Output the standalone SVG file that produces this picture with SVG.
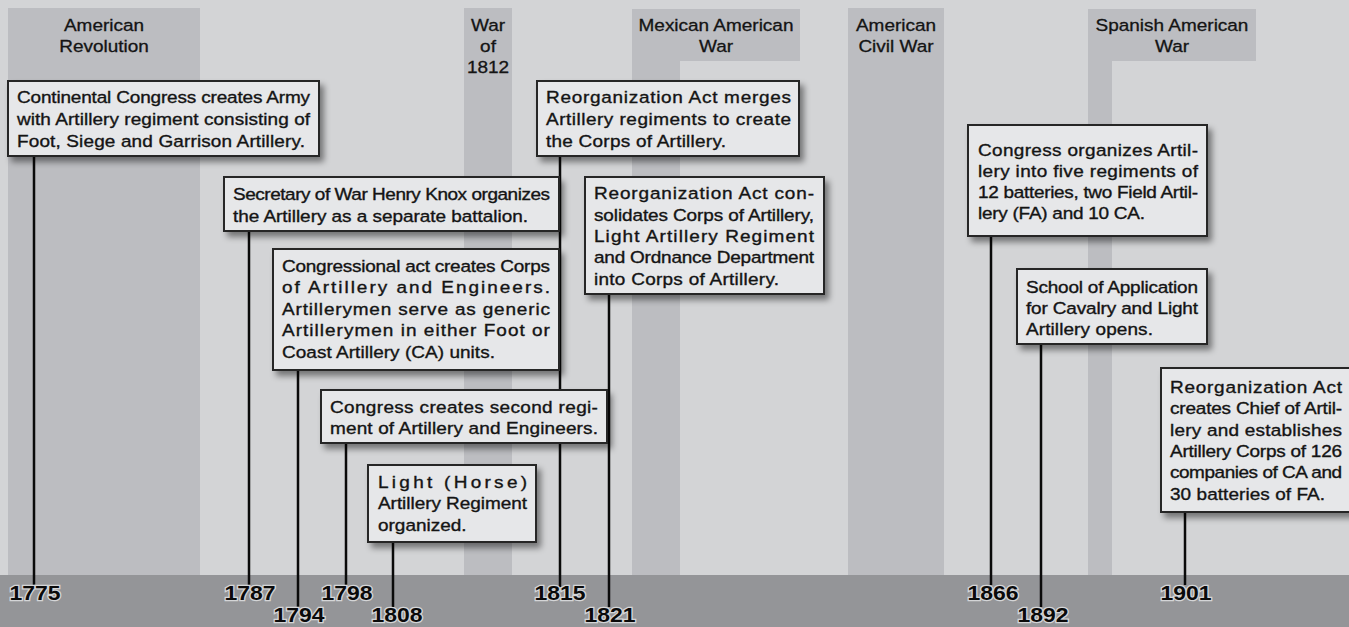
<svg xmlns="http://www.w3.org/2000/svg" width="1349" height="627" viewBox="0 0 1349 627">
<style>
.band{fill:#bcbdc1}
.hdr{font-family:"Liberation Sans",Arial,sans-serif;font-size:16.5px;fill:#141414;stroke:#141414;stroke-width:0.3;text-anchor:middle}
.box{fill:#e6e7e9;stroke:#262626;stroke-width:2;filter:url(#sh)}
.t text{font-family:"Liberation Sans",Arial,sans-serif;font-size:16.5px;fill:#141414;stroke:#141414;stroke-width:0.35}
.yr{font-family:"Liberation Sans",Arial,sans-serif;font-weight:bold;font-size:20.5px;fill:#0a0a0a;stroke:#d4d5d7;stroke-width:2.5;paint-order:stroke;text-anchor:middle}
.ln{stroke:#0a0a0a;stroke-width:2.5;fill:none}
</style>
<defs>
<filter id="sh" x="-10%" y="-20%" width="130%" height="150%">
<feDropShadow dx="4" dy="5" stdDeviation="3" flood-color="#000" flood-opacity="0.45"/>
</filter>
</defs>
<rect x="0" y="0" width="1349" height="627" fill="#d3d4d6"/>
<g id="wars">
<rect class="band" x="8" y="8" width="192" height="570"/>
<rect class="band" x="464" y="8" width="48" height="570"/>
<rect class="band" x="632" y="9" width="168" height="52"/>
<rect class="band" x="632" y="9" width="48" height="569"/>
<rect class="band" x="848" y="8" width="96" height="570"/>
<rect class="band" x="1088" y="9" width="168" height="52"/>
<rect class="band" x="1088" y="9" width="24" height="569"/>
<g transform="translate(104 0) scale(1.15 1)"><text class="hdr" x="0" y="31">American</text><text class="hdr" x="0" y="52">Revolution</text></g>
<g transform="translate(488 0) scale(1.15 1)"><text class="hdr" x="0" y="31">War</text><text class="hdr" x="0" y="52">of</text><text class="hdr" x="0" y="73">1812</text></g>
<g transform="translate(716 0) scale(1.15 1)"><text class="hdr" x="0" y="31">Mexican American</text><text class="hdr" x="0" y="52">War</text></g>
<g transform="translate(896 0) scale(1.15 1)"><text class="hdr" x="0" y="31">American</text><text class="hdr" x="0" y="52">Civil War</text></g>
<g transform="translate(1172 0) scale(1.15 1)"><text class="hdr" x="0" y="31">Spanish American</text><text class="hdr" x="0" y="52">War</text></g>
</g>
<rect id="timeline" x="0" y="575" width="1349" height="52" fill="#949598"/>
<g id="connectors">
<line class="ln" x1="34" y1="156" x2="34" y2="585"/>
<line class="ln" x1="249" y1="231" x2="249" y2="585"/>
<line class="ln" x1="298" y1="370" x2="298" y2="607"/>
<line class="ln" x1="346" y1="443" x2="346" y2="585"/>
<line class="ln" x1="393" y1="542" x2="393" y2="607"/>
<line class="ln" x1="560" y1="156" x2="560" y2="587"/>
<line class="ln" x1="609" y1="294" x2="609" y2="607"/>
<line class="ln" x1="991" y1="236" x2="991" y2="585"/>
<line class="ln" x1="1041" y1="344" x2="1041" y2="607"/>
<line class="ln" x1="1185" y1="512" x2="1185" y2="585"/>
</g>
<g id="n1775">
<rect class="box" x="8" y="81" width="311" height="75"/>
<g class="t" transform="translate(17 0) scale(1.15 1)">
<text x="0" y="103" textLength="254.8">Continental Congress creates Army</text>
<text x="0" y="125" textLength="254.8">with Artillery regiment consisting of</text>
<text x="0" y="147" textLength="250.4">Foot, Siege and Garrison Artillery.</text>
</g>
<text class="yr" transform="translate(35 600) scale(1.12 1)">1775</text>
</g>
<g id="n1787">
<rect class="box" x="224" y="177" width="335" height="54"/>
<g class="t" transform="translate(233 0) scale(1.15 1)">
<text x="0" y="200" textLength="275.7">Secretary of War Henry Knox organizes</text>
<text x="0" y="222" textLength="256.5">the Artillery as a separate battalion.</text>
</g>
<text class="yr" transform="translate(250 600) scale(1.12 1)">1787</text>
</g>
<g id="n1794">
<rect class="box" x="273" y="249" width="286" height="121"/>
<g class="t" transform="translate(282 0) scale(1.15 1)">
<text x="0" y="272" textLength="233">Congressional act creates Corps</text>
<text x="0" y="293.5" textLength="233">of Artillery and Engineers.</text>
<text x="0" y="315" textLength="233">Artillerymen serve as generic</text>
<text x="0" y="336.5" textLength="233">Artillerymen in either Foot or</text>
<text x="0" y="358" textLength="185.2">Coast Artillery (CA) units.</text>
</g>
<text class="yr" transform="translate(299 622) scale(1.12 1)">1794</text>
</g>
<g id="n1798">
<rect class="box" x="321" y="390" width="286" height="53"/>
<g class="t" transform="translate(330 0) scale(1.15 1)">
<text x="0" y="413" textLength="233">Congress creates second regi-</text>
<text x="0" y="434" textLength="233">ment of Artillery and Engineers.</text>
</g>
<text class="yr" transform="translate(347 600) scale(1.12 1)">1798</text>
</g>
<g id="n1808">
<rect class="box" x="368" y="465" width="168" height="77"/>
<g class="t" transform="translate(378 0) scale(1.15 1)">
<text x="0" y="488" textLength="129.6">Light (Horse)</text>
<text x="0" y="509" textLength="129.6">Artillery Regiment</text>
<text x="0" y="531">organized.</text>
</g>
<text class="yr" transform="translate(397 622) scale(1.12 1)">1808</text>
</g>
<g id="n1815">
<rect class="box" x="537" y="81" width="262" height="75"/>
<g class="t" transform="translate(546 0) scale(1.15 1)">
<text x="0" y="103" textLength="213">Reorganization Act merges</text>
<text x="0" y="125" textLength="213">Artillery regiments to create</text>
<text x="0" y="147" textLength="156.5">the Corps of Artillery.</text>
</g>
<text class="yr" transform="translate(560 600) scale(1.12 1)">1815</text>
</g>
<g id="n1821">
<rect class="box" x="585" y="177" width="239" height="117"/>
<g class="t" transform="translate(594 0) scale(1.15 1)">
<text x="0" y="199" textLength="191.3">Reorganization Act con-</text>
<text x="0" y="221" textLength="191.3">solidates Corps of Artillery,</text>
<text x="0" y="242" textLength="191.3">Light Artillery Regiment</text>
<text x="0" y="263" textLength="191.3">and Ordnance Department</text>
<text x="0" y="285" textLength="160.9">into Corps of Artillery.</text>
</g>
<text class="yr" transform="translate(610 622) scale(1.12 1)">1821</text>
</g>
<g id="n1866">
<rect class="box" x="968" y="125" width="239" height="111"/>
<g class="t" transform="translate(978 0) scale(1.15 1)">
<text x="0" y="156" textLength="191.3">Congress organizes Artil-</text>
<text x="0" y="177" textLength="191.3">lery into five regiments of</text>
<text x="0" y="198" textLength="191.3">12 batteries, two Field Artil-</text>
<text x="0" y="219" textLength="145.2">lery (FA) and 10 CA.</text>
</g>
<text class="yr" transform="translate(993 600) scale(1.12 1)">1866</text>
</g>
<g id="n1892">
<rect class="box" x="1017" y="269" width="190" height="75"/>
<g class="t" transform="translate(1026 0) scale(1.15 1)">
<text x="0" y="293" textLength="149.6">School of Application</text>
<text x="0" y="314" textLength="149.6">for Cavalry and Light</text>
<text x="0" y="335" textLength="110.4">Artillery opens.</text>
</g>
<text class="yr" transform="translate(1043 622) scale(1.12 1)">1892</text>
</g>
<g id="n1901">
<rect class="box" x="1161" y="368" width="200" height="144"/>
<g class="t" transform="translate(1170 0) scale(1.15 1)">
<text x="0" y="393" textLength="149.6">Reorganization Act</text>
<text x="0" y="414" textLength="149.6">creates Chief of Artil-</text>
<text x="0" y="436" textLength="149.6">lery and establishes</text>
<text x="0" y="457" textLength="149.6">Artillery Corps of 126</text>
<text x="0" y="478" textLength="149.6">companies of CA and</text>
<text x="0" y="500" textLength="134.8">30 batteries of FA.</text>
</g>
<text class="yr" transform="translate(1186 600) scale(1.12 1)">1901</text>
</g>
</svg>
